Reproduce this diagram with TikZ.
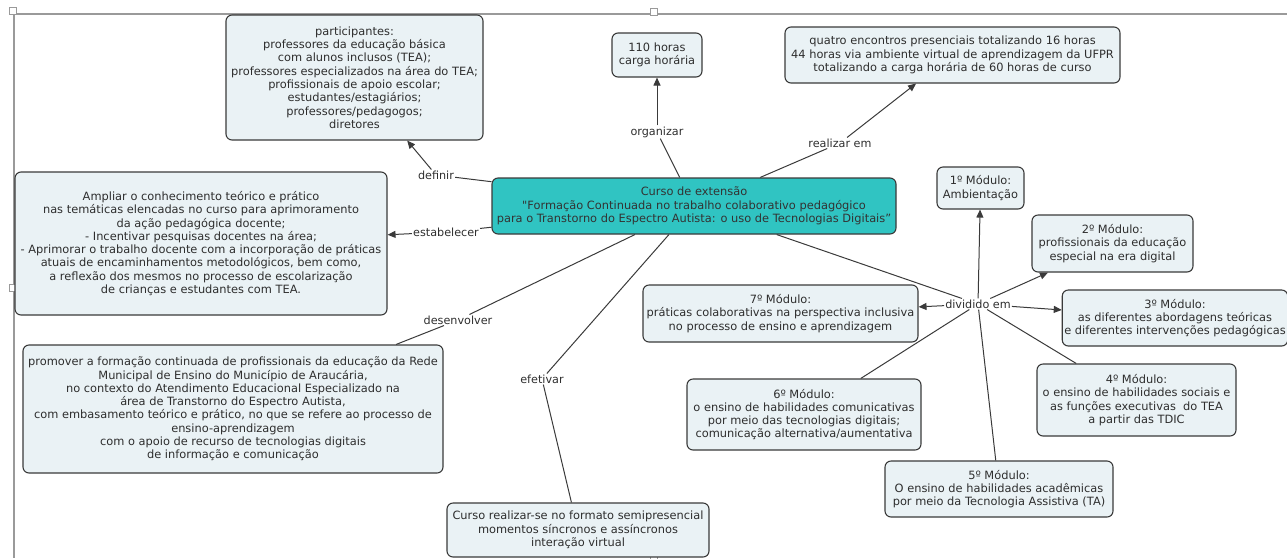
\documentclass[tikz,border=0pt]{standalone}
\usepackage{fontspec}
\setmainfont{DejaVu Sans}[Ligatures=TeXOff]
\usetikzlibrary{arrows.meta}
\definecolor{boxfill}{HTML}{EAF2F5}
\definecolor{boxline}{HTML}{3A3A3A}
\definecolor{mainfill}{HTML}{30C4C2}
\definecolor{inktext}{HTML}{2E2E2E}
\definecolor{framegray}{HTML}{9A9A9A}
\tikzset{
  concept/.style={draw=boxline, fill=boxfill, line width=1.1pt, rounded corners=6pt,
    align=center, text=inktext, inner sep=2pt,
    font=\fontsize{11.4}{13.3}\selectfont},
  mainconcept/.style={concept, fill=mainfill, text=black!80},
  linkword/.style={inner sep=1pt, text=inktext, font=\fontsize{11.2}{13}\selectfont},
  link/.style={draw=boxline, line width=1pt},
  linkto/.style={link, -{Triangle[length=8pt,width=7pt]}},
  handle/.style={draw=framegray, fill=white, line width=0.8pt, minimum size=7pt, inner sep=0pt}
}
\begin{document}
\begin{tikzpicture}[x=1pt, y=-1pt]
\useasboundingbox (0,0) rectangle (1287,558);
% frame of the page
\draw[framegray, line width=1.3pt] (14,14) -- (1287,14);
\draw[framegray, line width=1.3pt] (14,14) -- (14,558);
\node[handle] (hcorner) at (13,11) {};
\node[handle] (htop) at (654,12) {};
\node[handle] (hleft) at (13,288) {};
\node[handle] (hbottom) at (654,557) {};

% concepts
\node[mainconcept, minimum width=404pt, minimum height=56pt] (central) at (694,206)
  {Curso de extensão\\"Formação Continuada no trabalho colaborativo pedagógico\\para o Transtorno do Espectro Autista: o uso de Tecnologias Digitais”};
\node[concept, minimum width=257pt, minimum height=125pt] (participantes) at (354.5,77.5)
  {participantes:\\professores da educação básica\\com alunos inclusos (TEA);\\professores especializados na área do TEA;\\profissionais de apoio escolar;\\estudantes/estagiários;\\professores/pedagogos;\\diretores};
\node[concept, minimum width=90pt, minimum height=44pt] (cargahoraria) at (657,55)
  {110 horas\\carga horária};
\node[concept, minimum width=335pt, minimum height=56pt] (encontros) at (952.5,55)
  {quatro encontros presenciais totalizando 16 horas\\44 horas via ambiente virtual de aprendizagem da UFPR\\totalizando a carga horária de 60 horas de curso};
\node[concept, minimum width=372pt, minimum height=143pt] (objetivos) at (201,243.5)
  {Ampliar o conhecimento teórico e prático\\nas temáticas elencadas no curso para aprimoramento\\da ação pedagógica docente;\\- Incentivar pesquisas docentes na área;\\- Aprimorar o trabalho docente com a incorporação de práticas\\atuais de encaminhamentos metodológicos, bem como,\\a reflexão dos mesmos no processo de escolarização\\de crianças e estudantes com TEA.};
\node[concept, minimum width=420pt, minimum height=128pt] (formacao) at (233,409)
  {promover a formação continuada de profissionais da educação da Rede\\Municipal de Ensino do Município de Araucária,\\no contexto do Atendimento Educacional Especializado na\\área de Transtorno do Espectro Autista,\\com embasamento teórico e prático, no que se refere ao processo de\\ensino-aprendizagem\\com o apoio de recurso de tecnologias digitais\\de informação e comunicação};
\node[concept, minimum width=262pt, minimum height=54pt] (formato) at (578,530)
  {Curso realizar-se no formato semipresencial\\momentos síncronos e assíncronos\\interação virtual};
\node[concept, minimum width=87pt, minimum height=42pt] (mod1) at (980.5,188)
  {1º Módulo:\\Ambientação};
\node[concept, minimum width=161pt, minimum height=57pt] (mod2) at (1112.5,243.5)
  {2º Módulo:\\profissionais da educação\\especial na era digital};
\node[concept, minimum width=224pt, minimum height=56pt] (mod3) at (1175,318)
  {3º Módulo:\\as diferentes abordagens teóricas\\e diferentes intervenções pedagógicas};
\node[concept, minimum width=199pt, minimum height=72pt] (mod4) at (1136.5,400)
  {4º Módulo:\\o ensino de habilidades sociais e\\as funções executivas\ \ do TEA\\a partir das TDIC};
\node[concept, minimum width=228pt, minimum height=56pt] (mod5) at (999,489)
  {5º Módulo:\\O ensino de habilidades acadêmicas\\por meio da Tecnologia Assistiva (TA)};
\node[concept, minimum width=234pt, minimum height=71pt] (mod6) at (804,414.5)
  {6º Módulo:\\o ensino de habilidades comunicativas\\por meio das tecnologias digitais;\\comunicação alternativa/aumentativa};
\node[concept, minimum width=275pt, minimum height=57pt] (mod7) at (780.5,313.5)
  {7º Módulo:\\práticas colaborativas na perspectiva inclusiva\\no processo de ensino e aprendizagem};

% linking phrases
\node[linkword] (lkdefinir) at (436,175) {definir};
\node[linkword] (lkorganizar) at (657,132) {organizar};
\node[linkword] (lkrealizar) at (840,143) {realizar em};
\node[linkword] (lkestabelecer) at (446,232) {estabelecer};
\node[linkword] (lkdesenvolver) at (458,320) {desenvolver};
\node[linkword] (lkefetivar) at (542,379) {efetivar};
\node[linkword] (lkdividido) at (978,304) {dividido em};

% links
\draw[link] (central) -- (lkdefinir);
\draw[linkto] (lkdefinir) -- (participantes);
\draw[link] (central) -- (lkorganizar);
\draw[linkto] (lkorganizar) -- (cargahoraria);
\draw[link] (central) -- (lkrealizar);
\draw[linkto] (lkrealizar) -- (encontros);
\draw[link] (central) -- (lkestabelecer);
\draw[linkto] (lkestabelecer) -- (objetivos);
\draw[link] (central) -- (lkdesenvolver);
\draw[link] (lkdesenvolver) -- (formacao);
\draw[link] (central) -- (lkefetivar);
\draw[link] (lkefetivar) -- (formato);
\draw[link] (central) -- (lkdividido);
\draw[linkto] (lkdividido) -- (mod1);
\draw[linkto] (lkdividido) -- (mod2);
\draw[linkto] (lkdividido) -- (mod3);
\draw[link] (lkdividido) -- (mod4);
\draw[link] (lkdividido) -- (mod5);
\draw[link] (lkdividido) -- (mod6);
\draw[linkto] (lkdividido) -- (mod7);
\end{tikzpicture}
\end{document}
